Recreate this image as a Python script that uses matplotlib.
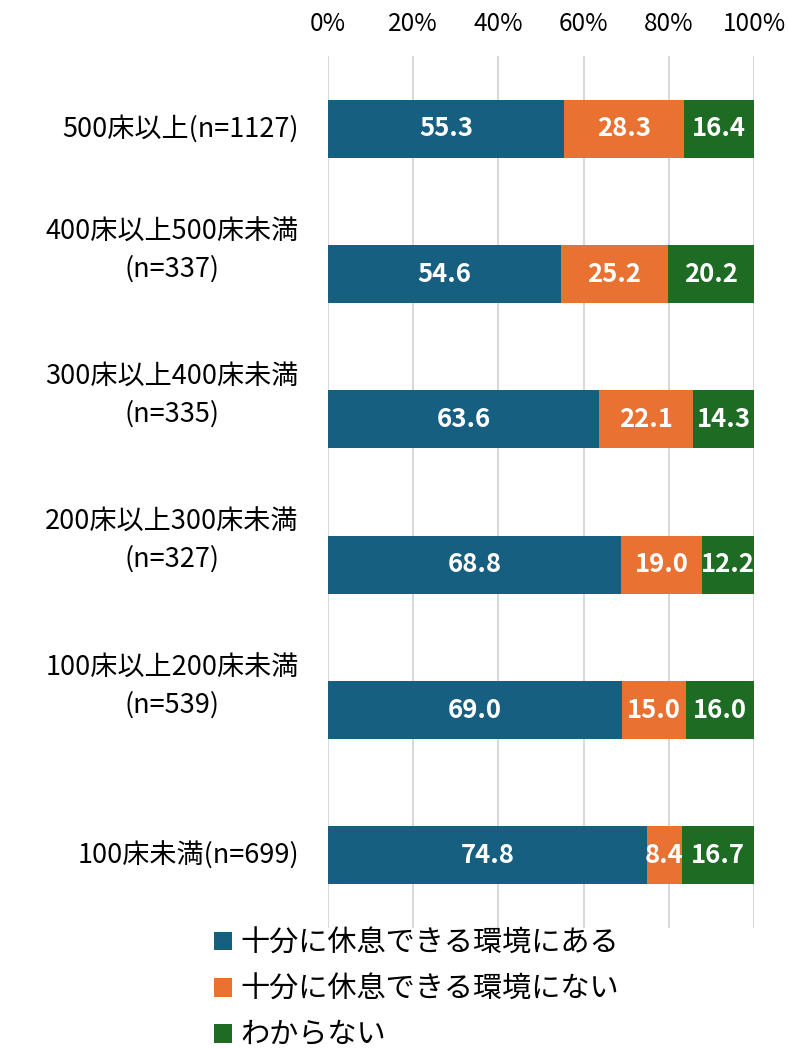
import numpy as np
import matplotlib.pyplot as plt
from matplotlib.patches import Patch

plt.rcParams['font.family'] = ['Noto Sans CJK JP', 'DejaVu Sans']

# Data
categories = ["500床以上(n=1127)", "400床以上500床未満\n(n=337)", "300床以上400床未満\n(n=335)",
              "200床以上300床未満\n(n=327)", "100床以上200床未満\n(n=539)", "100床未満(n=699)"]
series_names = ["十分に休息できる環境にある", "十分に休息できる環境にない", "わからない"]
aru = [55.3, 54.6, 63.6, 68.8, 69.0, 74.8]
nai = [28.3, 25.2, 22.1, 19.0, 15.0, 8.4]
wakaranai = [16.4, 20.2, 14.3, 12.2, 16.0, 16.7]
xticks = [0, 20, 40, 60, 80, 100]
colors = ["#175f80", "#e97132", "#1e6b24"]

fig = plt.figure(figsize=(7.88, 10.49), dpi=100)
ax = fig.add_axes([0.4162, 0.1153, 0.5407, 0.8313])

y = np.arange(len(categories))
left = np.zeros(len(categories))
for vals, c in zip([aru, nai, wakaranai], colors):
    vals = np.array(vals)
    ax.barh(y, vals, left=left, height=0.4, color=c, zorder=3)
    for yi, l, v in zip(y, left, vals):
        ax.text(l + v / 2, yi, f"{v:.1f}", ha='center', va='center', color='white',
                fontsize=18.5, fontweight='bold', zorder=4)
    left = left + vals

ax.set_xlim(0, 100)
ax.set_ylim(len(categories) - 0.5, -0.5)
ax.set_xticks(xticks)
ax.set_xticklabels([f"{t}%" for t in xticks], fontsize=17.5)
ax.xaxis.tick_top()
ax.tick_params(axis='x', length=0, pad=14)
ax.grid(axis='x', color='#d9d9d9', linewidth=1.5, zorder=0)
for s in ax.spines.values():
    s.set_visible(False)

# category labels
ax.set_yticks(y)
ax.set_yticklabels([])
ax.tick_params(axis='y', length=0)
for yi, lab in zip(y, categories):
    two = "\n" in lab
    ax.annotate(lab, xy=(0, yi), xycoords=('axes fraction', 'data'),
                xytext=(-21, 17 if two else 0), textcoords='offset points',
                ha='right', va='center', multialignment='center',
                fontsize=19.5, linespacing=1.45)

handles = [Patch(facecolor=c) for c in colors]
fig.legend(handles, series_names, loc='upper left', bbox_to_anchor=(0.257, 0.126),
           frameon=False, fontsize=21, handlelength=0.6, handleheight=0.6,
           handletextpad=0.3, labelspacing=0.55, borderaxespad=0)

fig.savefig("out.png", dpi=100)
